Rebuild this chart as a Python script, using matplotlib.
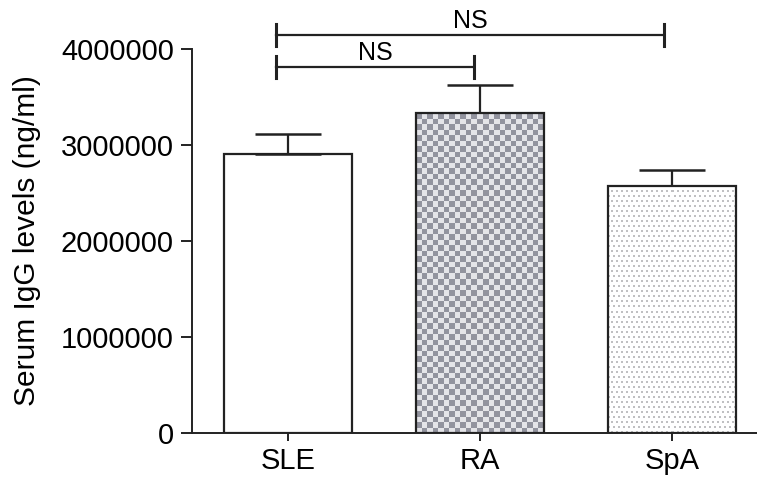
import numpy as np
import matplotlib
matplotlib.use('Agg')
import matplotlib.pyplot as plt

plt.rcParams['font.family'] = ['Liberation Sans', 'DejaVu Sans']

# data
groups = ['SLE', 'RA', 'SpA']
means = [2906000, 3333000, 2573000]
sem = [209000, 292000, 167000]
# significance brackets: (x start, x end, height, label)
brackets = [(-0.06, 1.96, 4146000, 'NS'),
            (-0.06, 0.97, 3810000, 'NS')]

fig = plt.figure(figsize=(7.57, 4.84), dpi=100)
ax = fig.add_axes([0.2536, 0.1054, 0.7464, 0.7934])

x = np.arange(len(groups))
width = 0.667
bars = ax.bar(x, means, width, color='white', edgecolor='#222222',
              linewidth=1.6, zorder=3)
ax.errorbar(x, means, yerr=[[0] * len(sem), sem], fmt='none',
            ecolor='#222222', elinewidth=1.6, capsize=23.5, capthick=1.8,
            zorder=2)

ax.set_xlim(-0.5, 2.443)
ax.set_ylim(0, 4000000)


def pattern_fill(bar, kind):
    # texture drawn as an image clipped to the bar
    bx, by = bar.get_x(), bar.get_y()
    bw, bh = bar.get_width(), bar.get_height()
    p0 = ax.transData.transform((bx, by))
    p1 = ax.transData.transform((bx + bw, by + bh))
    wpx, hpx = int(p1[0] - p0[0]), int(p1[1] - p0[1])
    yy, xx = np.mgrid[0:hpx, 0:wpx]
    img = np.ones((hpx, wpx, 3))
    if kind == 'check':
        s = 5.5
        mask = ((xx // s + yy // s) % 2) == 0
        img[mask] = np.array([0x92, 0x93, 0x9e]) / 255
        img[~mask] = np.array([0xe4, 0xe4, 0xe8]) / 255
    else:
        s = 5
        row = yy // s
        shift = (row % 2) * 2
        mask = ((yy % s) < 2) & (((xx + shift) % s) < 2)
        img[mask] = np.array([0xc0, 0xc0, 0xc2]) / 255
    im = ax.imshow(img, extent=(bx, bx + bw, by, by + bh), aspect='auto',
                   interpolation='nearest', zorder=2.5)
    im.set_clip_path(bar)


pattern_fill(bars[1], 'check')
pattern_fill(bars[2], 'dots')
for b in bars:
    b.set_facecolor('none')

ax.set_xlim(-0.5, 2.443)
ax.set_ylim(0, 4000000)

# brackets
tick_h = 115000
for x0, x1, h, lab in brackets:
    ax.plot([x0, x1], [h, h], color='#222222', lw=1.6, clip_on=False)
    for xe in (x0, x1):
        ax.plot([xe, xe], [h - tick_h, h + tick_h], color='#222222', lw=2.2,
                clip_on=False)
    ax.text((x0 + x1) / 2, h + 25000, lab, ha='center', va='bottom',
            fontsize=18, clip_on=False)

ax.spines['top'].set_visible(False)
ax.spines['right'].set_visible(False)
for sp in ('left', 'bottom'):
    ax.spines[sp].set_linewidth(1.4)
    ax.spines[sp].set_color('#222222')

ax.set_xticks(x)
ax.set_xticklabels(groups, fontsize=21)
ax.set_yticks([0, 1000000, 2000000, 3000000, 4000000])
ax.set_yticklabels(['0', '1000000', '2000000', '3000000', '4000000'], fontsize=21)
ax.tick_params(axis='y', length=8, width=1.4, pad=5, color='#222222')
ax.tick_params(axis='x', length=6, width=1.4, pad=4, color='#222222')
ax.set_ylabel('Serum IgG levels (ng/ml)', fontsize=21.5, labelpad=14)

fig.savefig('out.png', dpi=100)
